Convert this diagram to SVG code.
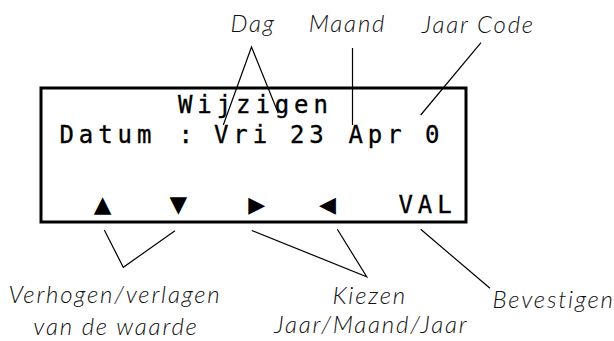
<svg xmlns="http://www.w3.org/2000/svg" width="614" height="341" viewBox="0 0 614 341">
<style>
.lcd{font-family:"DejaVu Sans Mono",monospace;font-size:24px;letter-spacing:4.9px;fill:#000;stroke:#000;stroke-width:0.35}
.sym{font-family:"DejaVu Sans",sans-serif;fill:#000;text-anchor:middle}
.tri{font-size:23px}
.ptr{font-size:22px}
.lbl{font-family:Lato,"Liberation Sans",Arial,sans-serif;font-style:italic;font-weight:300;font-size:24px;letter-spacing:1.8px;fill:#111;text-anchor:middle}
.ln{fill:none;stroke:#000;stroke-width:1.2}
</style>
<rect width="614" height="341" fill="#fff"/>
<g id="display">
<rect x="41" y="88" width="425" height="134" fill="none" stroke="#000" stroke-width="3"/>
<text class="lcd" x="178" y="113.3">Wijzigen</text>
<text class="lcd" y="143.3"><tspan x="59.5">Datum</tspan><tspan x="178.5">:</tspan><tspan x="214">Vri</tspan><tspan x="290">23</tspan><tspan x="348.5">Apr</tspan><tspan x="425">0</tspan></text>
<text class="sym tri" x="102.7" y="212">▲</text>
<text class="sym tri" x="178.3" y="212">▼</text>
<text class="sym ptr" x="256.7" y="212">▶</text>
<text class="sym ptr" x="327.5" y="212">◀</text>
<text class="lcd" x="398.5" y="213">VAL</text>
</g>
<g id="label-dag"><text class="lbl" x="253" y="32">Dag</text></g>
<g id="label-maand"><text class="lbl" x="347.5" y="32">Maand</text></g>
<g id="label-jaarcode"><text class="lbl" x="478.3" y="33">Jaar Code</text></g>
<g id="label-verhogen"><text class="lbl" x="115" y="302.7">Verhogen/verlagen</text><text class="lbl" x="116" y="335">van de waarde</text></g>
<g id="label-kiezen"><text class="lbl" x="369.7" y="304">Kiezen</text><text class="lbl" x="371.3" y="333">Jaar/Maand/Jaar</text></g>
<g id="label-bevestigen"><text class="lbl" x="553.7" y="308.3">Bevestigen</text></g>
<g id="connectors">
<polyline class="ln" points="223.3,125 251.5,47 278.3,113.3"/>
<line class="ln" x1="352.5" y1="48" x2="352.5" y2="125"/>
<line class="ln" x1="481" y1="42.7" x2="420.7" y2="115"/>
<polyline class="ln" points="104.3,230 123.3,267.3 175,230.7"/>
<polyline class="ln" points="251.7,230.5 366.7,276.7 337.3,229.3"/>
<line class="ln" x1="420.7" y1="229.3" x2="490" y2="288.3"/>
</g>
</svg>
